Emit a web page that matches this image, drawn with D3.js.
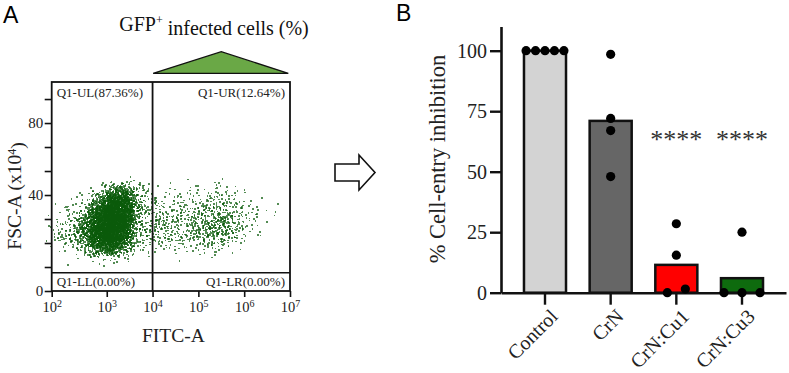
<!DOCTYPE html>
<html>
<head>
<meta charset="utf-8">
<script src="https://cdn.jsdelivr.net/npm/d3@7"></script>
<style>
  body { margin: 0; background: #fff; }
  svg { display: block; }
</style>
</head>
<body>
<script>
// ---------------- Panel A data (flow cytometry) ----------------
const xTickExpA = [2, 3, 4, 5, 6, 7];
const yTicksA = [0, 10, 20, 30, 40, 50, 60, 70, 80];
const yTickLabelsA = ["0", "", "", "", "40", "", "", "80", ""];
const quadrantLabels = ["Q1-UL(87.36%)", "Q1-UR(12.64%)", "Q1-LL(0.00%)", "Q1-LR(0.00%)"];
const gateFITC = 1e4;
const gateFSC = 7.6;
// Estimated event counts per bin: columns = log10(FITC) bins of 0.25 starting at 2.0,
// rows = FSC bins of 4 units (bin bottom listed in densityRowsFSC)
const densityColStartExp = 2.0;
const densityColStep = 0.25;
const densityRowsFSC = [44, 40, 36, 32, 28, 24, 20, 16, 12];
const densityRowStep = 4;
const densityCounts = [
  [0, 0, 0, 0, 0, 2, 3, 0, 0, 0, 0, 1, 0, 2, 1, 0, 0, 0, 0],
  [0, 0, 2, 6, 60, 80, 25, 8, 3, 2, 3, 4, 6, 6, 5, 3, 0, 0, 0],
  [0, 3, 8, 60, 200, 220, 45, 12, 8, 5, 6, 8, 10, 14, 12, 6, 3, 1, 0],
  [2, 8, 22, 200, 330, 300, 50, 15, 14, 10, 12, 14, 18, 24, 22, 10, 5, 3, 1],
  [6, 16, 60, 330, 380, 300, 45, 15, 21, 16, 16, 20, 28, 38, 34, 14, 6, 4, 2],
  [12, 28, 100, 380, 380, 260, 35, 14, 22, 18, 18, 22, 32, 45, 36, 14, 5, 2, 0],
  [12, 28, 90, 350, 330, 160, 28, 10, 17, 14, 14, 16, 22, 26, 18, 6, 2, 0, 0],
  [4, 8, 25, 150, 150, 60, 12, 5, 6, 5, 5, 6, 8, 8, 5, 2, 0, 0, 0],
  [0, 1, 4, 10, 10, 4, 1, 0, 0, 0, 1, 0, 1, 0, 0, 0, 0, 0, 0]
];

// ---------------- Panel B data (bar chart) ----------------
const categories = ["Control", "CrN", "CrN:Cu1", "CrN:Cu3"];
const barMeans = [100, 71, 11.5, 6];
const replicates = [
  [100, 100, 100, 100, 100],
  [98.5, 72, 67, 48],
  [28.5, 15.5, 1.5, 0],
  [25, 0, 0, 0]
];
const barColors = ["#d3d3d3", "#666666", "#ff0000", "#0e6b0e"];
const significance = ["", "", "****", "****"];
const yTicksB = [0, 25, 50, 75, 100];

// ---------------- Drawing ----------------
const SERIF = "'Liberation Serif', 'Times New Roman', 'DejaVu Serif', serif";
const SANS = "'Liberation Sans', Arial, sans-serif";
const W = 789, H = 373;
const svg = d3.select("body").append("svg").attr("width", W).attr("height", H);

// ===== Panel A =====
const aL = 51.7, aR = 290, aB = 291, aT = 82;
const xA = d3.scaleLog().domain([1e2, 1e3, 1e7]).range([aL, aL + (aR - aL) * 0.231, aR]);
const yA = d3.scaleLinear().domain([0, 87.1]).range([aB, aT]);

svg.append("text").style("font-family", SANS).attr("x", 3).attr("y", 23)
  .attr("font-size", 23).text("A");

// title with superscript
const title = svg.append("text").style("font-family", SERIF).attr("x", 214).attr("y", 31)
  .attr("text-anchor", "middle").attr("font-size", 20).attr("fill", "#111");
title.append("tspan").text("GFP");
title.append("tspan").attr("dy", "-0.55em").attr("font-size", 12).text("+");
title.append("tspan").attr("dy", "0.55em").text(" infected cells (%)");

// green triangle marker above the positive gate
const tri = d3.line()([[xA(gateFITC) + 0.6, 73.3], [xA(1e7) - 1.7, 73.3], [(xA(gateFITC) + xA(1e7)) / 2, 51.7]]);
svg.append("path").attr("d", tri + "Z").attr("fill", "#6aa846").attr("stroke", "#111").attr("stroke-width", 1.3);

// scatter events from density bins (deterministic low-discrepancy placement, triangular kernel)
function halton(i, b) { let f = 1, r = 0; while (i > 0) { f /= b; r += f * (i % b); i = Math.floor(i / b); } return r; }
const events = [];
let gi = 1;
densityCounts.forEach((row, ri) => {
  row.forEach((cnt, ci) => {
    const ec = densityColStartExp + (ci + 0.5) * densityColStep;
    const uc = densityRowsFSC[ri] + 0.5 * densityRowStep;
    for (let k = 0; k < cnt; k++) {
      const ox = (halton(gi, 2) + halton(gi, 3) - 1);
      const oy = (halton(gi, 5) + halton(gi, 7) - 1);
      gi++;
      events.push([ec + ox * densityColStep, uc + oy * densityRowStep]);
    }
  });
});
svg.append("g").attr("shape-rendering", "crispEdges").selectAll("rect").data(events).join("rect")
  .attr("x", d => xA(Math.pow(10, d[0])) - 0.8)
  .attr("y", d => yA(d[1]) - 0.8)
  .attr("width", 1.6).attr("height", 1.6)
  .attr("fill", "#0a5a0a").attr("opacity", 0.7);

// box and gates
svg.append("rect").attr("x", aL).attr("y", aT).attr("width", aR - aL).attr("height", aB - aT)
  .attr("fill", "none").attr("stroke", "#111").attr("stroke-width", 1.8);
svg.append("line").attr("x1", xA(gateFITC)).attr("x2", xA(gateFITC)).attr("y1", aT).attr("y2", aB)
  .attr("stroke", "#111").attr("stroke-width", 1.8);
svg.append("line").attr("x1", aL).attr("x2", aR).attr("y1", yA(gateFSC)).attr("y2", yA(gateFSC))
  .attr("stroke", "#111").attr("stroke-width", 1.5);

// quadrant labels
const qg = svg.append("g").style("font-family", SERIF).attr("font-size", 13).attr("fill", "#222");
qg.append("text").attr("x", aL + 5).attr("y", aT + 15).text(quadrantLabels[0]);
qg.append("text").attr("x", aR - 5).attr("y", aT + 15).attr("text-anchor", "end").text(quadrantLabels[1]);
qg.append("text").attr("x", aL + 5).attr("y", aB - 5.5).text(quadrantLabels[2]);
qg.append("text").attr("x", aR - 5).attr("y", aB - 5.5).attr("text-anchor", "end").text(quadrantLabels[3]);

// axes A
const xAxisA = d3.axisBottom(xA).tickValues(xTickExpA.map(e => Math.pow(10, e)))
  .tickSize(6).tickSizeOuter(0).tickFormat(() => "");
const gxA = svg.append("g").attr("transform", `translate(0,${aB})`).call(xAxisA);
gxA.select(".domain").remove();
gxA.selectAll(".tick line").attr("stroke", "#111").attr("stroke-width", 1.6);
gxA.selectAll(".tick").each(function (d, i) {
  const t = d3.select(this).append("text").style("font-family", SERIF).attr("y", 20.5)
    .attr("font-size", 14.5).attr("fill", "#222").attr("text-anchor", "middle");
  t.append("tspan").text("10");
  t.append("tspan").attr("dy", "-0.45em").attr("font-size", 10).text(xTickExpA[i]);
});

const yAxisA = d3.axisLeft(yA).tickValues(yTicksA).tickSize(7).tickSizeOuter(0)
  .tickFormat((d, i) => yTickLabelsA[i]);
const gyA = svg.append("g").attr("transform", `translate(${aL},0)`).call(yAxisA);
gyA.select(".domain").remove();
gyA.selectAll(".tick line").attr("stroke", "#111").attr("stroke-width", 1.6);
gyA.selectAll(".tick text").style("font-family", SERIF).attr("font-size", 15).attr("fill", "#222").attr("x", -8.5);

svg.append("text").style("font-family", SERIF).attr("x", 173.3).attr("y", 342)
  .attr("text-anchor", "middle").attr("font-size", 19.5).attr("fill", "#222").text("FITC-A");
const yl = svg.append("text").style("font-family", SERIF).attr("transform", "translate(21,196) rotate(-90)")
  .attr("text-anchor", "middle").attr("font-size", 19.5).attr("fill", "#222");
yl.append("tspan").text("FSC-A (x10");
yl.append("tspan").attr("dy", "-0.45em").attr("font-size", 12).text("4");
yl.append("tspan").attr("dy", "0.45em").text(")");

// open arrow between panels
const arrow = d3.line()([[335, 164], [359, 164], [359, 155], [375, 172.5], [359, 190], [359, 181], [335, 181]]);
svg.append("path").attr("d", arrow + "Z").attr("fill", "#fff").attr("stroke", "#111").attr("stroke-width", 1.6);

// ===== Panel B =====
const bL = 501, bR = 786;
const yB = d3.scaleLinear().domain([0, 110]).range([292.7, 26.5]);
const xB = d3.scaleBand().domain(categories).range([bL, bR]).paddingInner(0.36).paddingOuter(0.35);

svg.append("text").style("font-family", SANS).attr("x", 396).attr("y", 21)
  .attr("font-size", 23).text("B");

// bars
svg.append("g").selectAll("rect").data(categories).join("rect")
  .attr("x", d => xB(d)).attr("width", xB.bandwidth())
  .attr("y", (d, i) => yB(barMeans[i])).attr("height", (d, i) => yB(0) - yB(barMeans[i]))
  .attr("fill", (d, i) => barColors[i]).attr("stroke", "#111").attr("stroke-width", 2.5);

// axes B
const gyB = svg.append("g").attr("transform", `translate(${bL},0)`)
  .call(d3.axisLeft(yB).tickValues(yTicksB).tickSize(11).tickSizeOuter(0).tickPadding(3));
gyB.select(".domain").attr("stroke", "#111").attr("stroke-width", 2.6);
gyB.selectAll(".tick line").attr("stroke", "#111").attr("stroke-width", 2.4);
gyB.selectAll(".tick text").style("font-family", SERIF).attr("font-size", 20).attr("fill", "#222");

const gxB = svg.append("g").attr("transform", `translate(0,${yB(0)})`)
  .call(d3.axisBottom(xB).tickSize(12).tickSizeOuter(0));
gxB.select(".domain").attr("stroke", "#111").attr("stroke-width", 2.6);
gxB.selectAll(".tick line").attr("stroke", "#111").attr("stroke-width", 2.4);
gxB.selectAll(".tick text").style("font-family", SERIF).attr("font-size", 20).attr("fill", "#222")
  .attr("text-anchor", "end").attr("x", null).attr("y", null).attr("dy", "0.35em")
  .attr("transform", "translate(9,20) rotate(-45)");

svg.append("text").style("font-family", SERIF).attr("transform", "translate(437,159) rotate(-90)")
  .attr("text-anchor", "middle").attr("dy", "0.35em").attr("font-size", 22.5).attr("fill", "#222")
  .text("% Cell-entry inhibition");

// replicate dots with simple column-scatter spreading
const r = 4.6;
const dots = [];
replicates.forEach((vals, gi2) => {
  const cx = xB(categories[gi2]) + xB.bandwidth() / 2;
  const sorted = vals.map(v => v).sort((a, b) => a - b);
  const clusters = [];
  sorted.forEach(v => {
    const last = clusters[clusters.length - 1];
    if (last && Math.abs(yB(v) - yB(last[last.length - 1])) < 2 * r) last.push(v);
    else clusters.push([v]);
  });
  clusters.forEach(c => {
    const n = c.length;
    const sp = n > 1 ? Math.min(18, xB.bandwidth() * 0.9 / (n - 1)) : 0;
    c.forEach((v, k) => dots.push({ x: cx + (k - (n - 1) / 2) * sp, v }));
  });
});
svg.append("g").selectAll("circle").data(dots).join("circle")
  .attr("cx", d => d.x).attr("cy", d => yB(d.v)).attr("r", r).attr("fill", "#000");

// significance stars
svg.append("g").selectAll("text").data(categories).join("text")
  .style("font-family", SERIF).attr("x", d => xB(d) + xB.bandwidth() / 2).attr("y", yB(60))
  .attr("text-anchor", "middle").attr("font-size", 26).attr("fill", "#333")
  .text((d, i) => significance[i]);
</script>
</body>
</html>
